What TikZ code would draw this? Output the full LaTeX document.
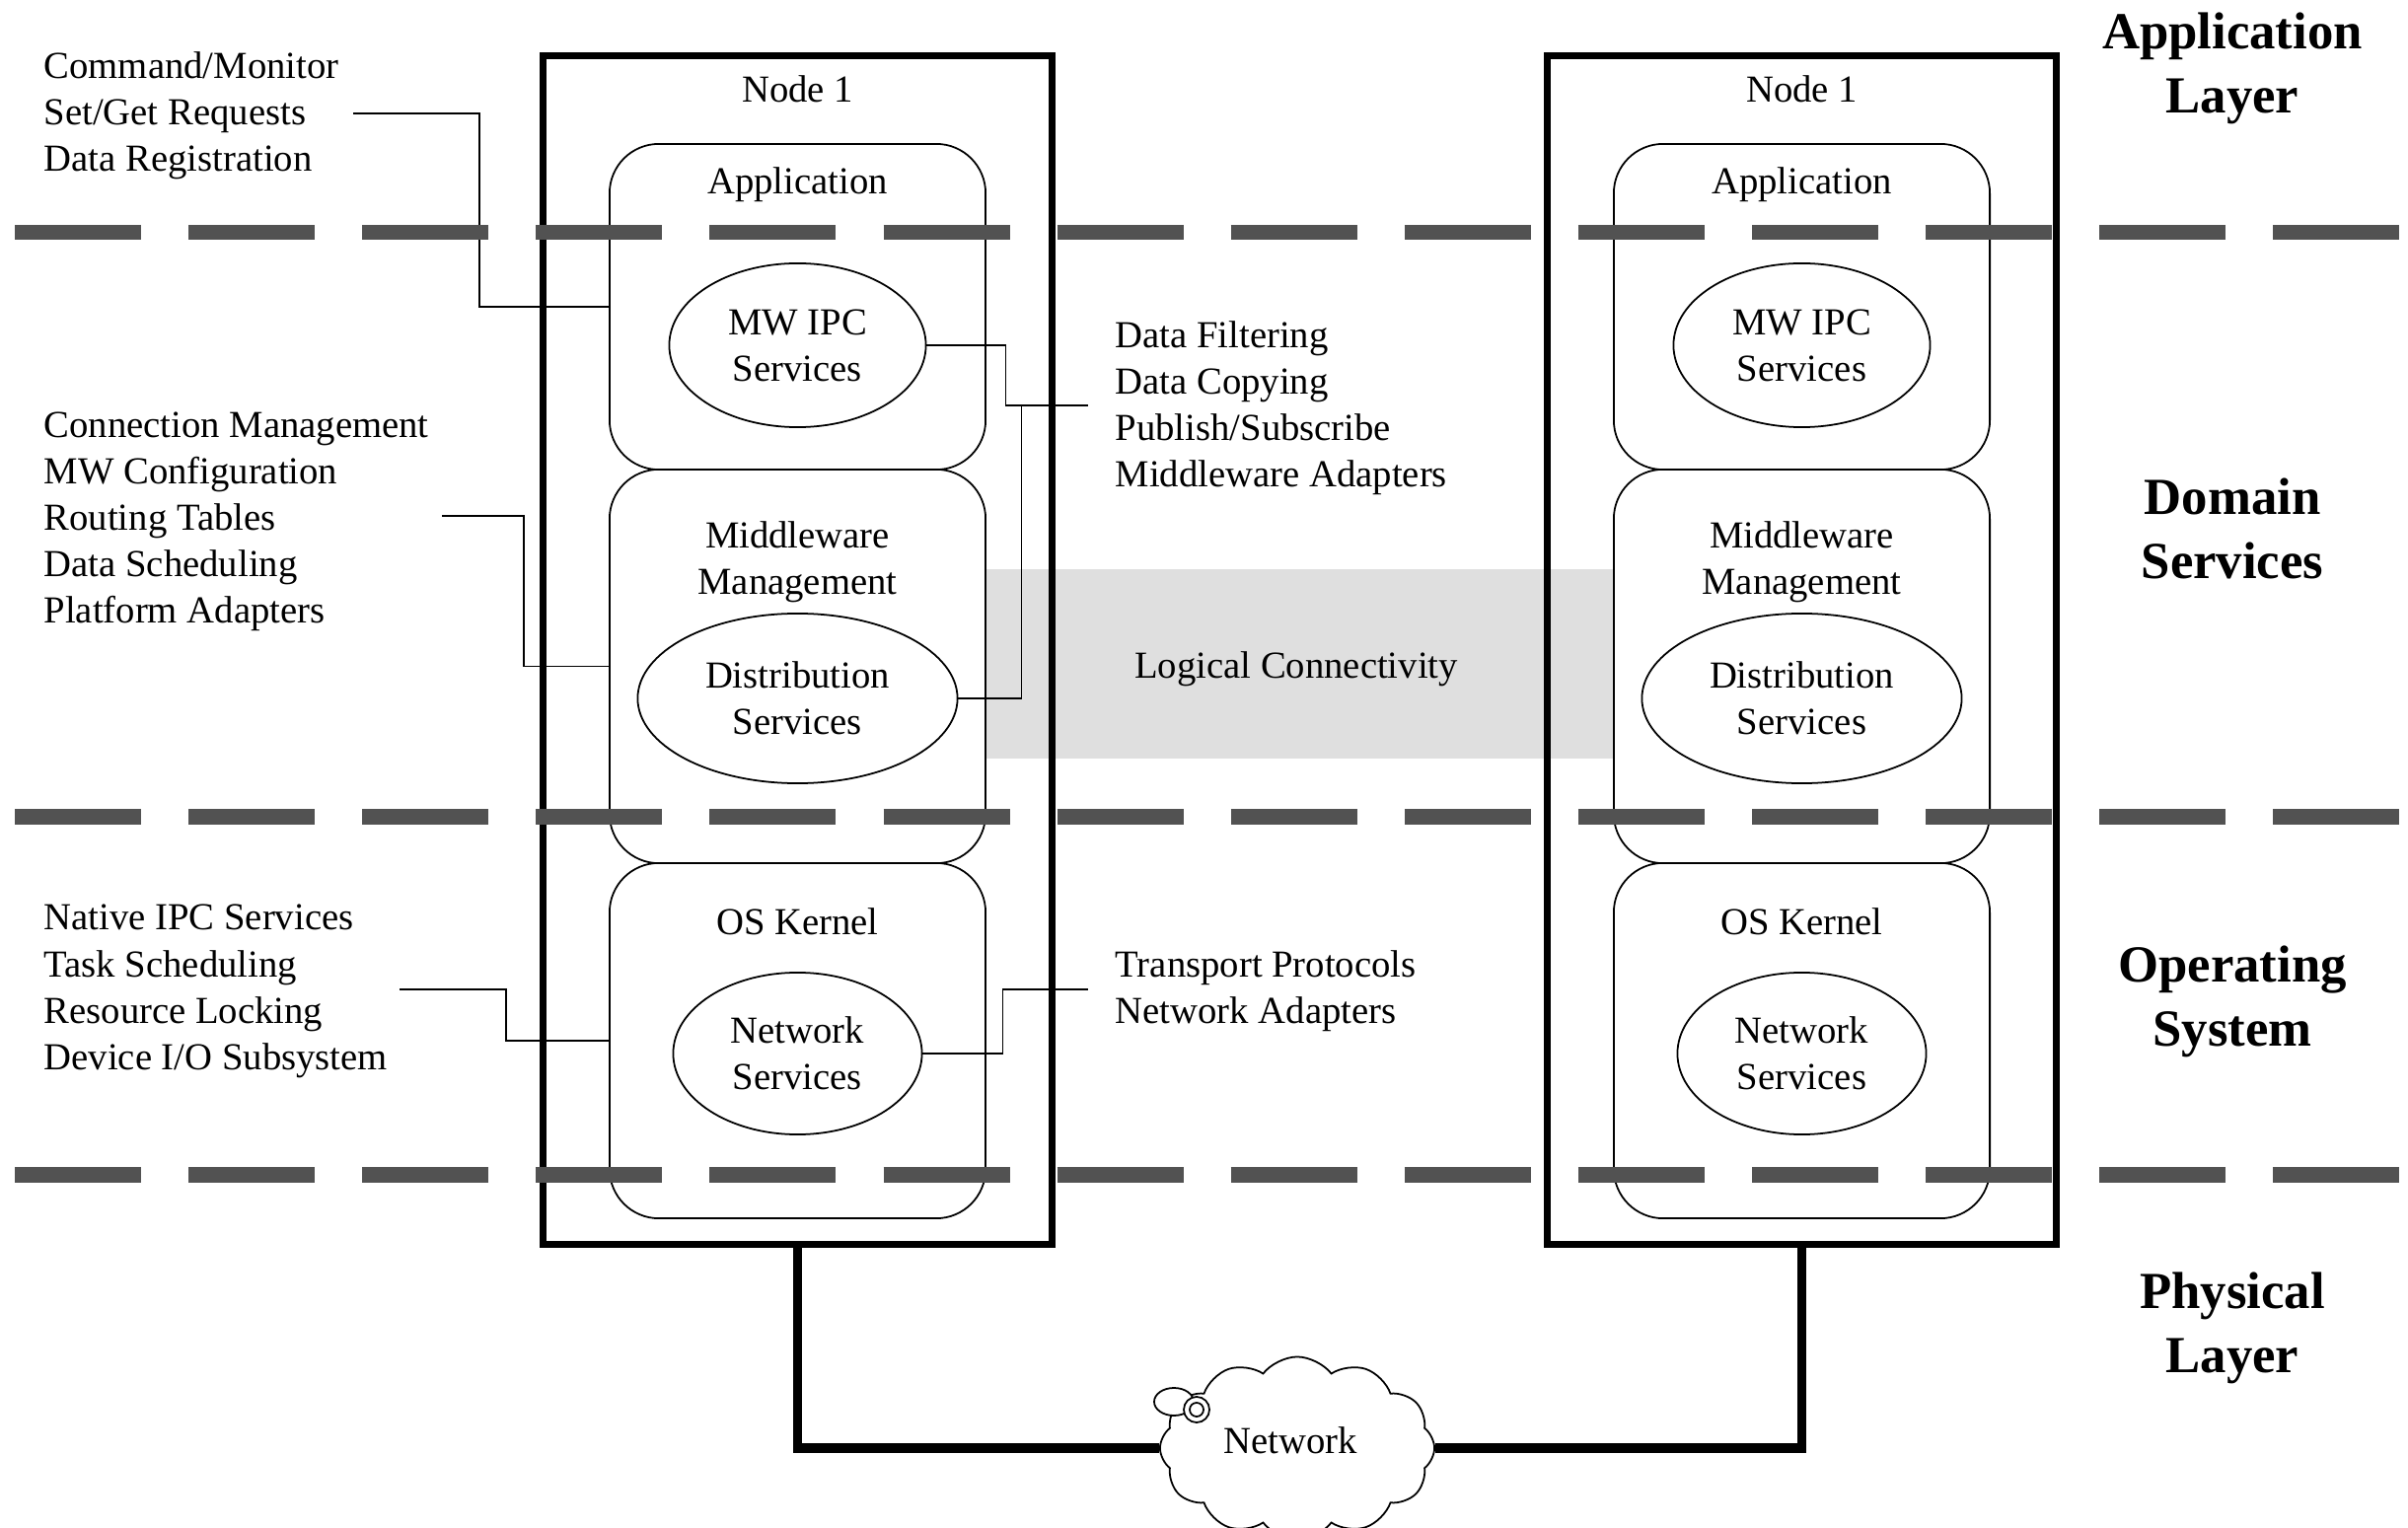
\documentclass[tikz,border=0pt]{standalone}
\usepackage{fontspec}
\setmainfont{Liberation Serif}
\usetikzlibrary{shapes.geometric,shapes.symbols}

\definecolor{layergray}{RGB}{82,82,82}
\definecolor{logicfill}{RGB}{223,223,223}
\newcommand\diagtext{\fontsize{11pt}{13.4pt}\selectfont}
\newcommand\titletext{\fontsize{15pt}{18.5pt}\selectfont\bfseries}

\tikzset{
  layerline/.style={draw=layergray, line width=4.3pt, dash pattern=on 1.28cm off 0.48cm},
  nodebox/.style={draw, line width=2pt, minimum width=5.15cm, minimum height=12.04cm, inner sep=0},
  tier/.style={draw, line width=0.5pt, rounded corners=0.5cm, minimum width=3.81cm, inner sep=0},
  svc/.style={ellipse, draw, line width=0.5pt, inner sep=0, align=center, font=\diagtext},
  boxtitle/.style={font=\diagtext, inner sep=0, align=center},
  note/.style={font=\diagtext, align=left, anchor=west, inner sep=0},
  layertitle/.style={font=\titletext, align=center, inner sep=0},
  conn/.style={line width=0.5pt},
  netlink/.style={line width=2.8pt},
}

\begin{document}
\begin{tikzpicture}[x=0.01cm, y=-0.01cm]
\clip (0,0) rectangle (2441,1549);
\fill[white] (0,0) rectangle (2441,1549);

% shaded band between the two middleware tiers
\node[fill=logicfill, minimum width=6.38cm, minimum height=1.92cm, inner sep=0] (logic) at (1317,673) {};
\node[boxtitle] (logict) at (1314,678) {Logical Connectivity};

% the two nodes with their software tiers
\foreach \s/\cx in {L/808.5, R/1826.5} {
  \node[nodebox] (box\s) at (\cx,659) {};
  \node[boxtitle] (name\s) at (\cx,90) {Node 1};
  \node[tier, minimum height=3.30cm] (app\s) at (\cx,311) {};
  \node[tier, minimum height=3.99cm] (mw\s) at (\cx,675.5) {};
  \node[tier, minimum height=3.60cm] (os\s) at (\cx,1055) {};
  \node[boxtitle] (appt\s) at (\cx,187) {Application};
  \node[boxtitle] (mwt\s) at (\cx,570) {Middleware\\Management};
  \node[boxtitle] (ost\s) at (\cx,934) {OS Kernel};
  \node[svc, minimum width=2.60cm, minimum height=1.66cm] (ipc\s) at (\cx,350) {MW IPC\\Services};
  \node[svc, minimum width=3.24cm, minimum height=1.72cm] (dist\s) at (\cx,708) {Distribution\\Services};
  \node[svc, minimum width=2.52cm, minimum height=1.64cm] (net\s) at (\cx,1068) {Network\\Services};
}

% annotations
\node[note] (n1) at (44,117) {Command/Monitor\\Set/Get Requests\\Data Registration};
\node[note] (n2) at (44,529) {Connection Management\\MW Configuration\\Routing Tables\\Data Scheduling\\Platform Adapters};
\node[note] (n3) at (44,1005) {Native IPC Services\\Task Scheduling\\Resource Locking\\Device I/O Subsystem};
\node[note] (n4) at (1130,414) {Data Filtering\\Data Copying\\Publish/Subscribe\\Middleware Adapters};
\node[note] (n5) at (1130,1005) {Transport Protocols\\Network Adapters};

\coordinate (c1) at (358,115);
\coordinate (c2) at (448,523);
\coordinate (c3) at (405,1003);
\coordinate (c4) at (1103,411);
\coordinate (c5) at (1103,1003);

\draw[conn] (c1) -- ++(128,0) |- (appL.west);
\draw[conn] (c2) -- ++(83,0) |- (mwL.west);
\draw[conn] (c3) -- ++(108,0) |- (osL.west);
\draw[conn] (ipcL.east) -- ++(80,0) |- (c4);
\draw[conn] (distL.east) -- ++(64,0) |- (c4);
\draw[conn] (netL.east) -- ++(81,0) |- (c5);

% layer names
\node[layertitle] (t1) at (2263,69) {Application\\Layer};
\node[layertitle] (t2) at (2263,536) {Domain\\Services};
\node[layertitle] (t3) at (2263,1015) {Operating\\System};
\node[layertitle] (t4) at (2263,1346) {Physical\\Layer};

% physical network
\node[cloud, draw, fill=white, line width=0.5pt, cloud puffs=12, cloud puff arc=105,
      aspect=1.55, minimum width=2.78cm, minimum height=1.85cm, inner sep=0] (cloud) at (1315,1468) {};
\node[boxtitle] (cloudt) at (1308,1460) {Network};
\draw[line width=0.5pt, fill=white] (1190,1421) ellipse [x radius=0.2cm, y radius=0.14cm];
\draw[line width=0.5pt, fill=white] (1213,1429) circle [radius=0.13cm];
\draw[line width=0.5pt] (1213,1429) circle [radius=0.07cm];
\draw[netlink] (boxL.south) |- (cloud.west);
\draw[netlink] (boxR.south) |- (cloud.east);

% layer boundaries
\draw[layerline] (15,235.5) -- (2441,235.5);
\draw[layerline] (15,828) -- (2441,828);
\draw[layerline] (15,1191) -- (2441,1191);
\end{tikzpicture}
\end{document}
